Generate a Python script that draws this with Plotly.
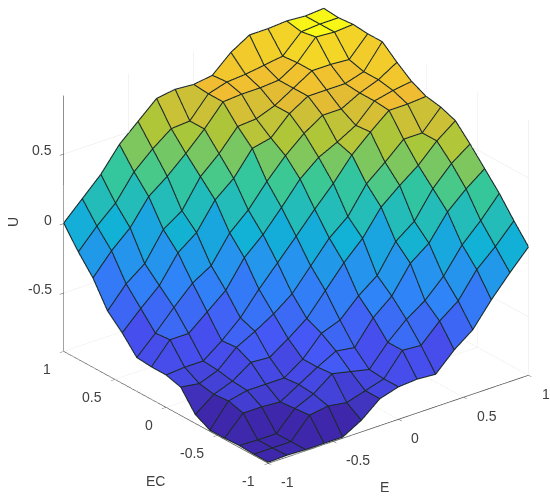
import plotly.graph_objects as go

E = [-1 + k / 7 for k in range(15)]
EC = [-1 + k / 7 for k in range(15)]

U_ec00 = [-.915,-.91,-.915,-.915,-.915,-.84,-.73,-.69,-.68,-.69,-.56,-.46,-.29,-.14,0]
U_ec01 = [-.915,-.915,-.915,-.77,-.75,-.77,-.73,-.69,-.53,-.54,-.41,-.31,-.13,-.01,.13]
U_ec02 = [-.91,-.915,-.915,-.78,-.72,-.62,-.65,-.68,-.53,-.41,-.32,-.19,-.01,.12,.27]
U_ec03 = [-.915,-.78,-.78,-.79,-.71,-.63,-.56,-.58,-.41,-.30,-.11,-.01,.17,.29,.39]
U_ec04 = [-.915,-.75,-.72,-.72,-.72,-.63,-.49,-.44,-.31,-.21,-.01,.09,.28,.415,.51]
U_ec05 = [-.86,-.76,-.71,-.62,-.63,-.54,-.44,-.285,-.13,0,.18,.29,.39,.52,.62]
U_ec06 = [-.72,-.74,-.69,-.57,-.50,-.42,-.32,-.165,-.01,.10,.29,.40,.52,.52,.66]
U_ec07 = [-.69,-.68,-.68,-.58,-.46,-.30,-.155,-.01,.14,.28,.44,.56,.67,.67,.68]
U_ec08 = [-.69,-.54,-.54,-.43,-.32,-.13,-.01,.14,.30,.41,.475,.55,.68,.71,.73]
U_ec09 = [-.68,-.55,-.41,-.28,-.20,-.01,.11,.27,.41,.525,.61,.61,.68,.73,.81]
U_ec10 = [-.56,-.43,-.31,-.12,-.02,.17,.28,.45,.48,.61,.69,.69,.69,.73,.90]
U_ec11 = [-.46,-.31,-.21,-.01,.08,.28,.40,.55,.56,.61,.69,.77,.77,.76,.90]
U_ec12 = [-.28,-.13,-.01,.17,.27,.39,.52,.67,.68,.68,.69,.77,.91,.90,.91]
U_ec13 = [-.15,-.01,.11,.29,.41,.51,.52,.67,.71,.72,.74,.76,.89,.90,.90]
U_ec14 = [0,.13,.26,.43,.55,.67,.69,.68,.70,.82,.90,.90,.91,.90,.91]
U = [U_ec00, U_ec01, U_ec02, U_ec03, U_ec04, U_ec05, U_ec06, U_ec07,
     U_ec08, U_ec09, U_ec10, U_ec11, U_ec12, U_ec13, U_ec14]

e_ticks = [-1, -0.5, 0, 0.5, 1]
e_labels = ["-1", "-0.5", "0", "0.5", "1"]
u_ticks = [-0.5, 0, 0.5]
u_labels = ["-0.5", "0", "0.5"]

PARULA = [
    (0.2422, 0.1504, 0.6603), (0.2810, 0.3228, 0.9579), (0.1786, 0.5289, 0.9682),
    (0.0689, 0.6948, 0.8394), (0.2161, 0.7843, 0.5923), (0.6720, 0.7793, 0.2227),
    (0.9400, 0.7300, 0.2000), (0.9769, 0.9839, 0.0805),
]
U_MIN, U_MAX = -0.92, 0.92
LINE_LIFT = 0.004


def parula(v):
    t = max(0.0, min(1.0, (v - U_MIN) / (U_MAX - U_MIN))) * (len(PARULA) - 1)
    k = min(int(t), len(PARULA) - 2)
    f = t - k
    c = [PARULA[k][n] + f * (PARULA[k + 1][n] - PARULA[k][n]) for n in range(3)]
    return "rgb(%d,%d,%d)" % tuple(round(255 * a) for a in c)


n = len(E)
xs, ys, zs = [], [], []
for j in range(n):
    for i in range(n):
        xs.append(E[i]); ys.append(EC[j]); zs.append(U[j][i])

ti, tj, tk, fc = [], [], [], []
for j in range(n - 1):
    for i in range(n - 1):
        a = j * n + i
        b = a + 1
        c = a + n + 1
        d = a + n
        col = parula(U[j][i])
        ti += [a, a]; tj += [b, c]; tk += [c, d]; fc += [col, col]

lx, ly, lz = [], [], []
for j in range(n):
    lx += E + [None]; ly += [EC[j]] * n + [None]; lz += [u + LINE_LIFT for u in U[j]] + [None]
for i in range(n):
    lx += [E[i]] * n + [None]; ly += EC + [None]; lz += [U[j][i] + LINE_LIFT for j in range(n)] + [None]

fig = go.Figure()
fig.add_trace(go.Mesh3d(
    x=xs, y=ys, z=zs, i=ti, j=tj, k=tk, facecolor=fc, flatshading=True,
    lighting=dict(ambient=1, diffuse=0, specular=0, roughness=1, fresnel=0),
    showscale=False, hoverinfo="skip"))
fig.add_trace(go.Scatter3d(
    x=lx, y=ly, z=lz, mode="lines", line=dict(color="#1c2a2a", width=2.2),
    showlegend=False, hoverinfo="skip"))

FONT = dict(family="Liberation Sans, Arial, sans-serif", size=14, color="#404040")


def axis(vals, rng):
    return dict(
        range=rng, tickmode="array", tickvals=vals, showticklabels=False,
        title=dict(text=""), showbackground=False, showgrid=True, gridcolor="#e6e6e6",
        gridwidth=1, showline=True, linecolor="#4a4a4a", linewidth=1.5, zeroline=False,
        ticks="outside", ticklen=5, tickcolor="#4a4a4a", showspikes=False)


def label(x, y, z, text, anchor, dx, dy):
    return dict(x=x, y=y, z=z, text=text, showarrow=False, font=FONT,
                xanchor=anchor, yanchor="middle", xshift=dx, yshift=dy)


scene_labels = (
    [label(v, -1, U_MIN, t, "left", 11, -19) for v, t in zip(e_ticks, e_labels)]
    + [label(-1, v, U_MIN, t, "right", -11, -18) for v, t in zip(e_ticks, e_labels)]
    + [label(-1, 1, v, t, "right", -10, 4) for v, t in zip(u_ticks, u_labels)]
)

cx, cy, cz = -0.085 * 0.786, 0.085 * 0.618, -0.058
fig.update_layout(
    width=550, height=497, margin=dict(l=0, r=0, t=0, b=0),
    paper_bgcolor="white", showlegend=False,
    scene=dict(
        domain=dict(x=[0, 1], y=[0, 1]),
        xaxis=axis(e_ticks, [-1, 1]),
        yaxis=axis(e_ticks, [-1, 1]),
        zaxis=axis(u_ticks, [U_MIN, U_MAX]),
        aspectmode="manual", aspectratio=dict(x=1.332, y=1.332, z=1.14),
        camera=dict(
            projection=dict(type="orthographic"),
            up=dict(x=0, y=0, z=1), center=dict(x=cx, y=cy, z=cz),
            eye=dict(x=cx - 0.558 * 2, y=cy - 0.709 * 2, z=cz + 0.431 * 2)),
        annotations=scene_labels,
    ),
    annotations=[
        dict(text="E", x=384 / 550, y=1 - 487 / 497, xref="paper", yref="paper", showarrow=False,
             xanchor="center", yanchor="middle", font=FONT),
        dict(text="EC", x=155 / 550, y=1 - 481 / 497, xref="paper", yref="paper", showarrow=False,
             xanchor="center", yanchor="middle", font=FONT),
        dict(text="U", x=13 / 550, y=1 - 222 / 497, xref="paper", yref="paper", showarrow=False,
             xanchor="center", yanchor="middle", textangle=-90, font=FONT),
    ],
)
fig.write_html("out.html", config={"displayModeBar": False},
               post_script="document.body.style.margin='0';document.documentElement.style.overflow='hidden';")
